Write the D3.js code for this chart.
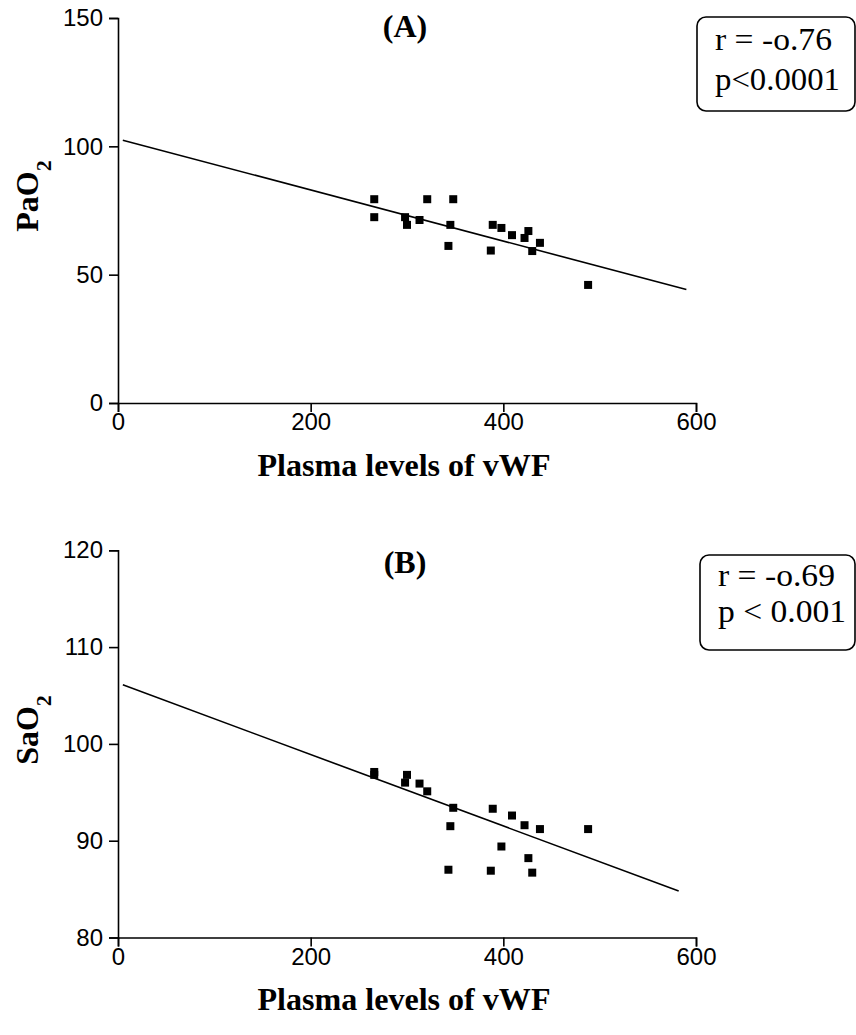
<!DOCTYPE html>
<html>
<head>
<meta charset="utf-8">
<script src="https://cdn.jsdelivr.net/npm/d3@7"></script>
<style>
  html, body { margin: 0; padding: 0; background: #fff; }
  svg { display: block; }
</style>
</head>
<body>
<svg id="chart" width="856" height="1035"></svg>
<script>
// ---------- DATA ----------
const xTicks = [0, 200, 400, 600];

// Panel A: PaO2 vs plasma vWF
const aX = [266, 266, 298, 300, 313, 321, 348, 345, 343, 389, 398, 409, 387, 422, 426, 430, 438, 488];
const aY = [79.4, 72.4, 72.4, 69.4, 71.3, 79.4, 79.4, 69.4, 61.2, 69.4, 68.2, 65.4, 59.4, 64.3, 67.0, 59.2, 62.4, 46.0];
const aTicks = [0, 50, 100, 150];
const aFitX = [5, 590];
const aFitY = [102.4, 44.2];

// Panel B: SaO2 vs plasma vWF
const bX = [266, 266, 300, 298, 313, 321, 348, 345, 389, 409, 398, 343, 387, 422, 426, 430, 438, 488];
const bY = [97.1, 96.8, 96.8, 96.0, 95.9, 95.1, 93.4, 91.5, 93.3, 92.6, 89.4, 87.0, 86.9, 91.6, 88.2, 86.7, 91.2, 91.2];
const bTicks = [80, 90, 100, 110, 120];
const bFitX = [5, 582];
const bFitY = [106.1, 84.8];

const panelTitles = ["(A)", "(B)"];
const yTitles = [["Pa", "O", "2"], ["Sa", "O", "2"]];
const xTitle = "Plasma levels of vWF";
const statsA = ["r = -o.76", "p<0.0001"];
const statsB = ["r = -o.69", "p < 0.001"];

// ---------- DRAW ----------
const serif = "'Liberation Serif', 'Times New Roman', serif";
const sans = "'Liberation Sans', Arial, sans-serif";
const svg = d3.select("#chart");
const x = d3.scaleLinear().domain([0, 600]).range([118, 696]);

function panel(opts) {
  const g = svg.append("g");
  const y = d3.scaleLinear().domain(opts.domain).range(opts.range);
  const y0 = opts.range[0];

  const xa = g.append("g").attr("transform", `translate(0,${y0})`)
    .call(d3.axisBottom(x).tickValues(xTicks).tickSizeOuter(0).tickSize(9).tickPadding(1));
  const ya = g.append("g").attr("transform", `translate(118,0)`)
    .call(d3.axisLeft(y).tickValues(opts.ticks).tickSizeOuter(0).tickSize(9).tickPadding(6));
  [xa, ya].forEach(a => {
    a.selectAll("path, line").attr("stroke", "#000").attr("stroke-width", 1.6);
    a.selectAll("text").attr("fill", "#000").style("font-family", sans).attr("font-size", 24);
  });

  // regression line
  const fit = opts.fitX.map((v, i) => [v, opts.fitY[i]]);
  g.append("path")
    .attr("d", d3.line().x(d => x(d[0])).y(d => y(d[1]))(fit))
    .attr("stroke", "#000").attr("stroke-width", 1.6).attr("fill", "none");

  // points
  const pts = opts.xs.map((v, i) => [v, opts.ys[i]]);
  const s = 8;
  g.selectAll("rect.pt").data(pts).join("rect")
    .attr("class", "pt")
    .attr("x", d => x(d[0]) - s / 2)
    .attr("y", d => y(d[1]) - s / 2)
    .attr("width", s).attr("height", s)
    .attr("fill", "#000");

  // panel title
  g.append("text")
    .attr("x", 405).attr("y", opts.titleY)
    .attr("text-anchor", "middle")
    .style("font-family", serif).attr("font-weight", "bold").attr("font-size", 32)
    .text(opts.title);

  // y title (rotated, with subscript)
  const yt = g.append("text")
    .attr("transform", `translate(${opts.yTitleX},${opts.yTitleY}) rotate(-90)`)
    .attr("text-anchor", "middle")
    .style("font-family", serif).attr("font-weight", "bold").attr("font-size", 32);
  yt.append("tspan").text(opts.yTitle[0] + opts.yTitle[1]);
  yt.append("tspan").attr("baseline-shift", "sub").attr("font-size", 22).text(opts.yTitle[2]);

  // x title
  g.append("text")
    .attr("x", 404).attr("y", opts.xTitleY)
    .attr("text-anchor", "middle")
    .style("font-family", serif).attr("font-weight", "bold").attr("font-size", 31)
    .attr("textLength", 293).attr("lengthAdjust", "spacingAndGlyphs")
    .text(xTitle);

  // stats box
  const b = opts.box;
  g.append("rect")
    .attr("x", b[0]).attr("y", b[1]).attr("width", b[2]).attr("height", b[3])
    .attr("rx", 9).attr("ry", 9)
    .attr("fill", "none").attr("stroke", "#000").attr("stroke-width", 1.6);
  opts.stats.forEach((t, i) => {
    g.append("text")
      .attr("x", b[0] + 18).attr("y", opts.statsY[i])
      .style("font-family", serif).attr("font-size", 31)
      .attr("textLength", opts.statsW[i]).attr("lengthAdjust", "spacingAndGlyphs")
      .text(t);
  });
}

panel({
  domain: [0, 150], range: [403, 18], ticks: aTicks,
  xs: aX, ys: aY, fitX: aFitX, fitY: aFitY,
  title: panelTitles[0], titleY: 37,
  yTitle: yTitles[0], yTitleX: 38, yTitleY: 196,
  xTitleY: 476,
  box: [697, 17, 158, 94], stats: statsA, statsY: [50, 90], statsW: [117, 125]
});

panel({
  domain: [80, 120], range: [937.5, 550.3], ticks: bTicks,
  xs: bX, ys: bY, fitX: bFitX, fitY: bFitY,
  title: panelTitles[1], titleY: 573,
  yTitle: yTitles[1], yTitleX: 38, yTitleY: 730,
  xTitleY: 1010,
  box: [700, 555, 155, 95], stats: statsB, statsY: [586, 622], statsW: [117, 128]
});
</script>
</body>
</html>
